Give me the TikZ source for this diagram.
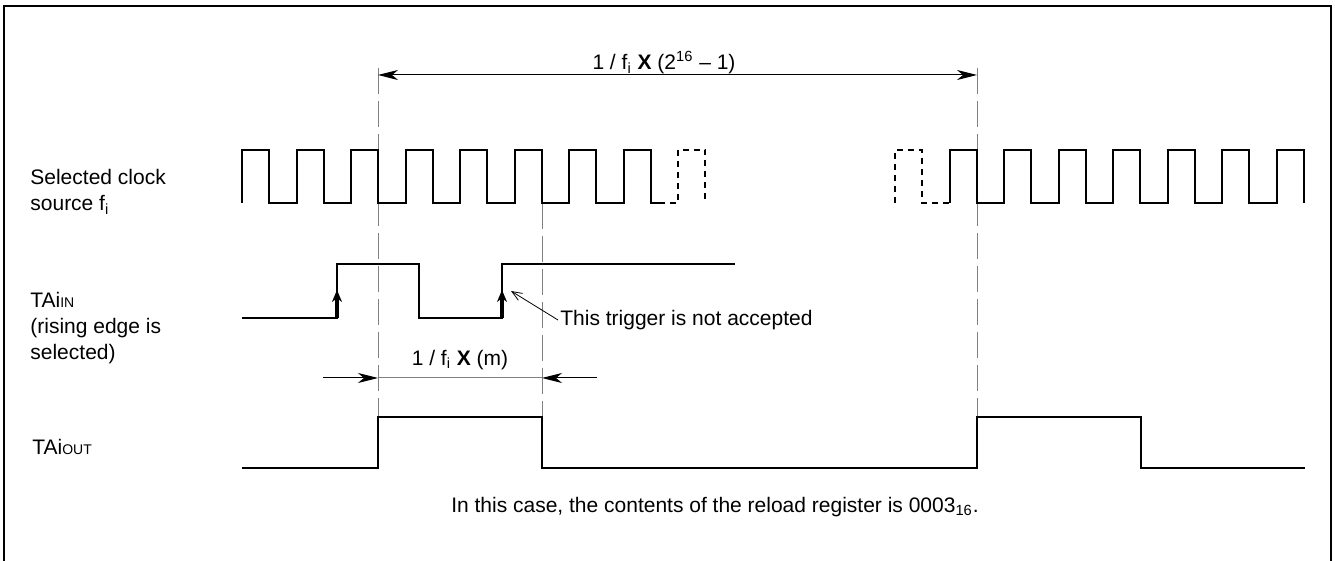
\documentclass[tikz,border=0pt]{standalone}
\usepackage{fontspec}
\setmainfont{Liberation Sans}
\usetikzlibrary{arrows.meta}

\newcommand{\lowtxt}[1]{{\fontsize{7}{8}\selectfont #1}}
\newcommand{\fsub}{f\textsubscript{i}}
\def\hp{27.25}

\tikzset{
  wave/.style={line width=1pt},
  wavedash/.style={line width=1pt, dash pattern=on 3pt off 2.5pt},
  guide/.style={gray, line width=0.5pt, dash pattern=on 13pt off 3.5pt},
  dim/.style={line width=0.5pt, {Stealth[length=10pt,width=5pt,inset=3pt]}-{Stealth[length=10pt,width=5pt,inset=3pt]}},
  dimin/.style={line width=0.5pt, -{Stealth[length=10pt,width=5pt,inset=3pt]}},
  trig/.style={line width=1.6pt, -{Stealth[length=6pt,width=5pt]}},
  sig/.style={anchor=west, align=left, inner sep=0pt}
}

\begin{document}
\begin{tikzpicture}[x=0.5pt, y=-0.5pt, font=\fontsize{10.5}{13}\selectfont]
\useasboundingbox (0,0) rectangle (1335,561);

% frame, open at the bottom
\draw [line width=1.3pt] (4,565) -- (4,6) -- (1331,6) -- (1331,565);

% guides
\draw [guide] (378,68) -- (378,417);
\draw [guide] (542,203) -- (542,417);
\draw [guide] (977,68) -- (977,417);

% clock fi
\draw [wave] (242,203) \foreach \k in {1,...,7}{ -- ++(0,-53) -- ++(\hp,0) -- ++(0,53) -- ++(\hp,0) }
  -- ++(0,-53) -- ++(\hp,0) -- ++(0,53) -- ++(8,0) coordinate (cgap);
\draw [wavedash] (cgap) -- (678,203) -- (678,150) -- (705.25,150) -- (705.25,203);
\draw [wavedash] (895,203) -- (895,150) -- (922.25,150) -- (922.25,203) -- (949.5,203);
\draw [wave] (949.5,203) \foreach \k in {1,...,6}{ -- ++(0,-53) -- ++(\hp,0) -- ++(0,53) -- ++(\hp,0) }
  -- ++(0,-53) -- ++(\hp,0) -- ++(0,53);

% TAiIN
\draw [wave] (242,318) -- (337,318) -- (337,264) -- (419,264) -- (419,318) -- (502,318) -- (502,264) -- (735,264);
\draw [trig] (337,318) -- (337,290);
\draw [trig] (502,318) -- (502,290);

% TAiOUT
\draw [wave] (242,468) -- (378,468) -- (378,417) -- (542,417) -- (542,468) -- (977,468) -- (977,417) -- (1141,417) -- (1141,468) -- (1305,468);

% dimensions
\coordinate (p1) at (378,75);
\coordinate (p2) at (977,75);
\draw [dim] (p1) -- (p2);
\node (period) at (664,63) {1 / \fsub\ {\bfseries X} (2\textsuperscript{16} – 1)};

\coordinate (m0) at (323,378);
\coordinate (m1) at (378,378);
\coordinate (m2) at (542,378);
\coordinate (m3) at (597,378);
\draw [dimin] (m0) -- (m1);
\draw [dimin] (m3) -- (m2);
\draw [gray, line width=0.5pt] (m1) -- (m2);
\node (width) at (460,360) {1 / \fsub\ {\bfseries X} (m)};

% note on the second edge
\coordinate (miss) at (511,291);
\node [anchor=west, inner sep=1pt] (note) at (558,320) {This trigger is not accepted};
\draw [line width=0.4pt, -{Straight Barb[length=5pt,width=4pt]}] (note.west) -- (miss);

% signal names
\node [sig] (clk) at (30,192) {Selected clock\\source \fsub};
\node [sig] (tin) at (30,328) {TAi\lowtxt{IN}\\(rising edge is\\selected)};
\node [sig] (tout) at (32,447) {TAi\lowtxt{OUT}};

\node (case) at (715,507) {In this case, the contents of the reload register is 0003\textsubscript{16}.};

\end{tikzpicture}
\end{document}
